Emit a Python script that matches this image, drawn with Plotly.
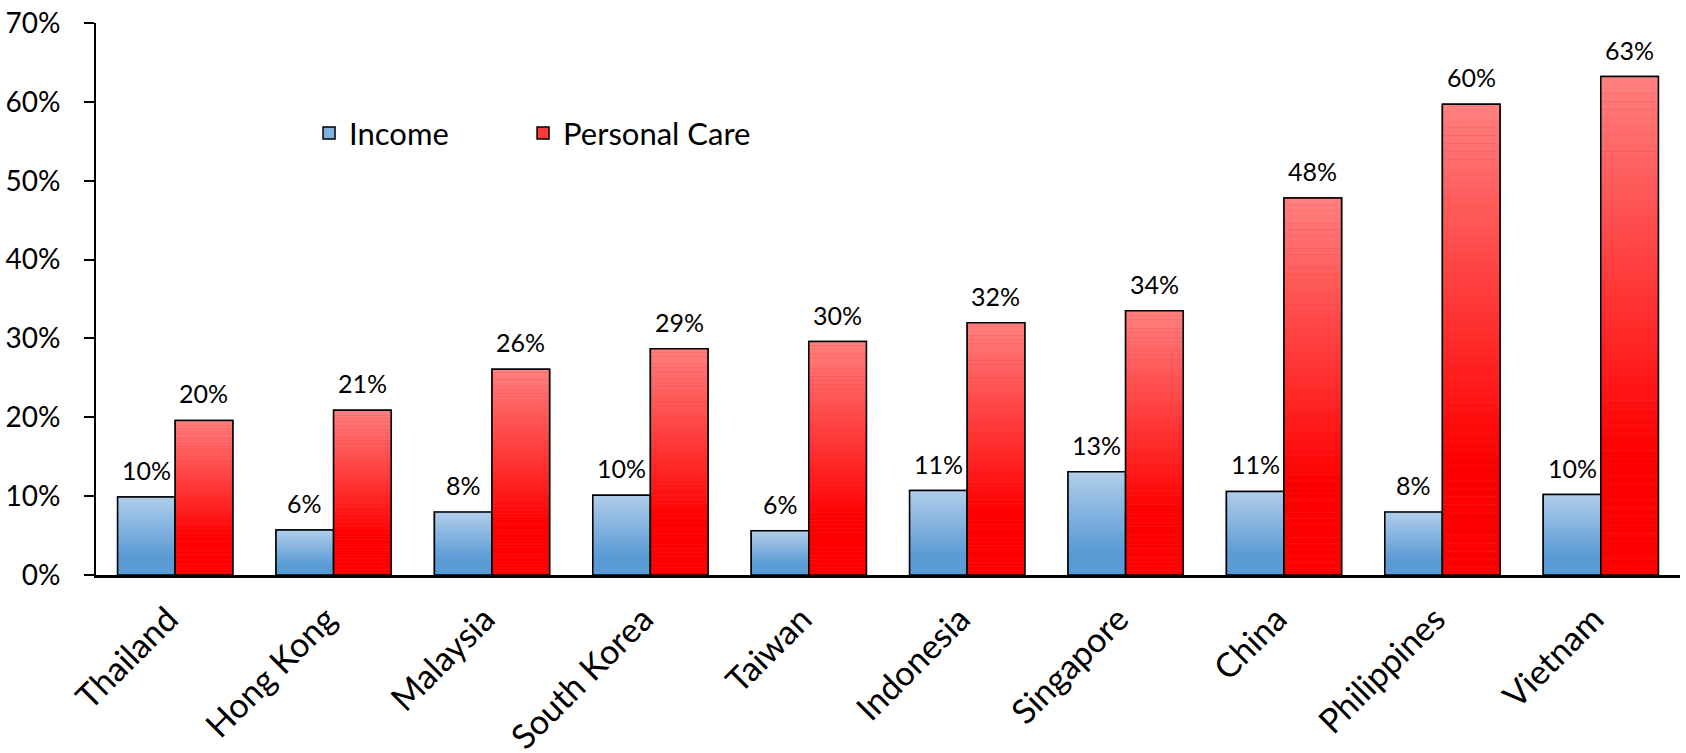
import plotly.graph_objects as go

countries = ["Thailand", "Hong Kong", "Malaysia", "South Korea", "Taiwan",
             "Indonesia", "Singapore", "China", "Philippines", "Vietnam"]
income = [0.099, 0.057, 0.080, 0.101, 0.056, 0.107, 0.131, 0.106, 0.080, 0.102]
personal_care = [0.196, 0.209, 0.261, 0.287, 0.296, 0.320, 0.335, 0.478, 0.597, 0.632]

series = [
    ("Income", income, (91, 155, 213), (176, 205, 234), "inc", "legend"),
    ("Personal Care", personal_care, (255, 0, 0), (255, 128, 128), "pc", "legend2"),
]

FONT = "Lato"
N = 60  # gradient slices per bar
SOLID_FRAC = 0.25  # bottom part of each bar in solid base colour


def mix(c0, c1, t):
    return "rgb(%d,%d,%d)" % tuple(round(a + (b - a) * t) for a, b in zip(c0, c1))


fig = go.Figure()
for name, vals, base_c, light_c, grp, leg in series:
    # legend-bearing bar (fully covered by gradient slices)
    fig.add_trace(go.Bar(
        x=countries, y=vals, name=name, offsetgroup=grp, legendgroup=grp, legend=leg,
        marker=dict(color=mix(base_c, light_c, 0.45), line=dict(color="black", width=1.5)),
        hoverinfo="skip",
    ))
    # vertical gradient: stacked slices of each bar
    for k in range(N):
        t = (k + 0.5) / N
        g = max(0.0, (t - SOLID_FRAC) / (1 - SOLID_FRAC))
        fig.add_trace(go.Bar(
            x=countries, y=[v / N for v in vals], base=[v * k / N for v in vals],
            offsetgroup=grp, legendgroup=grp, legend=leg, showlegend=False,
            marker=dict(color=mix(base_c, light_c, g), line=dict(width=0)),
            hoverinfo="skip",
        ))
    # outline on top
    fig.add_trace(go.Bar(
        x=countries, y=vals, name=name, offsetgroup=grp, legendgroup=grp, legend=leg,
        showlegend=False,
        marker=dict(color="rgba(0,0,0,0)", line=dict(color="black", width=1.5)),
        hovertemplate="%{x}<br>" + name + ": %{y:.0%}<extra></extra>",
    ))

# data labels above bars
BARGAP = 0.273
plot_w = 1686 - 96 - 6
bar_px = plot_w / len(countries) * (1 - BARGAP) / 2
for (name, vals, *_), sgn in zip(series, (-1, 1)):
    for c, v in zip(countries, vals):
        fig.add_annotation(
            x=c, y=v, xref="x", yref="y", text=f"{v:.0%}", showarrow=False,
            yanchor="bottom", xanchor="center", xshift=sgn * bar_px / 2, yshift=10,
            font=dict(family=FONT, size=25, color="black"),
        )

legend_style = dict(
    orientation="h", xanchor="left", yanchor="middle", y=0.80,
    font=dict(family=FONT, size=31, color="black"), bgcolor="rgba(0,0,0,0)",
)

fig.update_layout(
    width=1686, height=753,
    margin=dict(l=96, r=6, t=23, b=178),
    paper_bgcolor="white", plot_bgcolor="white",
    barmode="group", bargap=BARGAP, bargroupgap=0,
    font=dict(family=FONT, color="black"),
    showlegend=True,
    legend=dict(x=0.1345, **legend_style),
    legend2=dict(x=0.2696, **legend_style),
    yaxis=dict(
        range=[0, 0.7], dtick=0.1, tickformat=".0%", showgrid=False, zeroline=False,
        showline=True, linecolor="black", linewidth=2,
        ticks="outside", ticklen=10, tickwidth=2, tickcolor="black",
        ticklabelstandoff=18, automargin=False,
        tickfont=dict(family=FONT, size=28, color="black"),
    ),
    xaxis=dict(
        showline=True, linecolor="black", linewidth=2.5, showgrid=False,
        ticks="", tickangle=-45, automargin=False,
        ticklabelstandoff=8, ticklabelshift=-7,
        tickfont=dict(family=FONT, size=34, color="black"),
    ),
)

fig.write_html("out.html", config={"displayModeBar": False},
               post_script="document.body.style.margin='0';")
